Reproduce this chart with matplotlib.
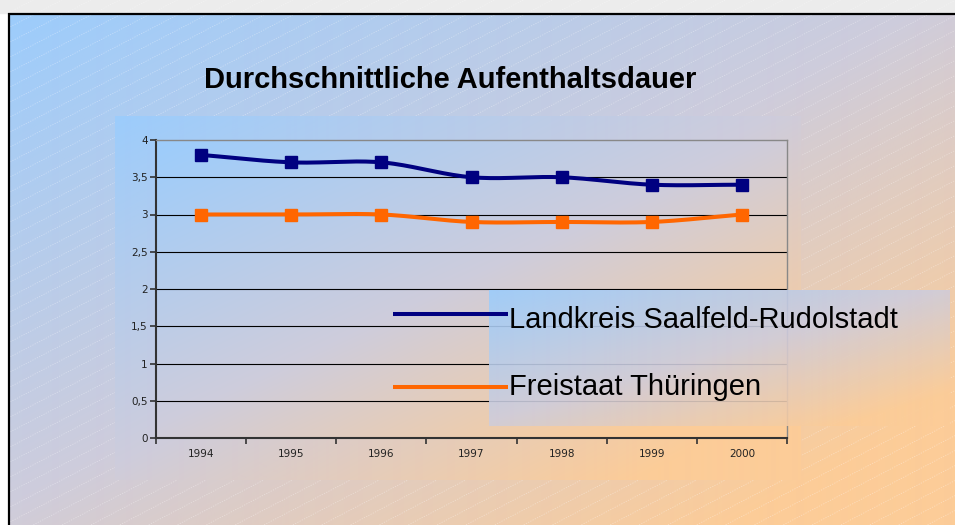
import numpy as np
import matplotlib
matplotlib.use('Agg')
import matplotlib.pyplot as plt
from matplotlib.patches import Rectangle
from matplotlib.lines import Line2D

# ---------------- data ----------------
years = ['1994', '1995', '1996', '1997', '1998', '1999', '2000']
landkreis = [3.8, 3.7, 3.7, 3.5, 3.5, 3.4, 3.4]
thueringen = [3.0, 3.0, 3.0, 2.9, 2.9, 2.9, 3.0]
series_names = ['Landkreis Saalfeld-Rudolstadt', 'Freistaat Thüringen']
series_colors = ['#000080', '#FF6600']
y_ticks = [0, 0.5, 1, 1.5, 2, 2.5, 3, 3.5, 4]
y_ticklabels = ['0', '0,5', '1', '1,5', '2', '2,5', '3', '3,5', '4']
title = 'Durchschnittliche Aufenthaltsdauer'

# ---------------- helpers ----------------
W, H = 955, 525
c0 = np.array([156, 204, 252]) / 255.0
cm = np.array([206, 204, 220]) / 255.0
c1 = np.array([252, 204, 152]) / 255.0


def grad(w, h):
    xs = np.linspace(0, 1, max(int(w), 2))
    ys = np.linspace(0, 1, max(int(h), 2))
    t = ((xs[None, :] + ys[:, None]) / 2.0)[..., None]
    a = np.clip(t / 0.48, 0, 1)
    b = np.clip((t - 0.48) / 0.40, 0, 1)
    lo = c0 * (1 - a) + cm * a
    hi = cm * (1 - b) + c1 * b
    return np.where(t < 0.48, lo, hi)


def smooth(xv, yv, n=30):
    x = np.asarray(xv, float)
    y = np.asarray(yv, float)
    px = np.concatenate([[2 * x[0] - x[1]], x, [2 * x[-1] - x[-2]]])
    py = np.concatenate([[2 * y[0] - y[1]], y, [2 * y[-1] - y[-2]]])
    ox, oy = [], []
    t = np.linspace(0, 1, n)
    for i in range(1, len(px) - 2):
        for arr, out in ((px, ox), (py, oy)):
            p0, p1, p2, p3 = arr[i - 1], arr[i], arr[i + 1], arr[i + 2]
            out.extend(0.5 * ((2 * p1) + (-p0 + p2) * t + (2 * p0 - 5 * p1 + 4 * p2 - p3) * t ** 2
                              + (-p0 + 3 * p1 - 3 * p2 + p3) * t ** 3))
    return np.array(ox), np.array(oy)


fig = plt.figure(figsize=(W / 100, H / 100), dpi=100)

# ---------------- background ----------------
bg = fig.add_axes([0, 0, 1, 1], zorder=0)
bg.axis('off')

fx0, fy0 = 8, 13
bg.add_patch(Rectangle((0, 0), W, fy0, color='#ECECEC', zorder=0))
bg.imshow(grad(W - fx0, H - fy0), extent=(fx0, W, H, fy0), aspect='auto', zorder=1,
          interpolation='bilinear')

# faint diagonal hatch lines, kept outside the chart area
ca = (115, 116, 800, 480)
slope = 0.52
for b in np.arange(fy0, H + slope * W + 20, 15):
    xa, xb = fx0, W
    xin0 = fx0 + (b - ca[3]) / slope
    xin1 = fx0 + (b - ca[1]) / slope
    lo, hi = max(xin0, ca[0]), min(xin1, ca[2])
    segs = [(xa, xb)] if lo >= hi else [(xa, lo), (hi, xb)]
    for s0, s1 in segs:
        if s1 <= s0:
            continue
        xx = np.array([s0, s1])
        bg.plot(xx, b - slope * (xx - fx0), color='white', lw=0.6, alpha=0.35,
                ls=(0, (1.5, 1.5)), zorder=2)

# chart area with its own gradient
bg.imshow(grad(ca[2] - ca[0], ca[3] - ca[1]), extent=(ca[0], ca[2], ca[3], ca[1]),
          aspect='auto', zorder=3, interpolation='bilinear')

# frame
bg.plot([fx0 + 1, fx0 + 1], [fy0, H], color='black', lw=1.6, zorder=5, solid_capstyle='butt')
bg.plot([fx0, W], [fy0 + 1, fy0 + 1], color='black', lw=1.6, zorder=5, solid_capstyle='butt')
bg.set_xlim(0, W)
bg.set_ylim(H, 0)

# title
bg.text(450, 88, title, ha='center', va='baseline', fontsize=21, fontweight='bold',
        family='Liberation Sans', color='black', zorder=6)

# ---------------- plot area ----------------
px0, py0, px1, py1 = 156, 140, 787, 438
ax = fig.add_axes([px0 / W, 1 - py1 / H, (px1 - px0) / W, (py1 - py0) / H], zorder=2)
n = len(years)
ax.imshow(grad(px1 - px0, py1 - py0), extent=(-0.5, n - 0.5, 0, 4), aspect='auto', zorder=0,
          interpolation='bilinear')
ax.set_xlim(-0.5, n - 0.5)
ax.set_ylim(0, 4)
for yv in y_ticks[1:-1]:
    ax.axhline(yv, color='black', lw=0.8, zorder=1)

xi = np.arange(n)
for vals, col in zip([landkreis, thueringen], series_colors):
    sx, sy = smooth(xi, vals)
    ax.plot(sx, sy, color=col, lw=2.9, zorder=3, solid_capstyle='butt')
    ax.plot(xi, vals, ls='none', marker='s', ms=8.5, color=col, zorder=4)

ax.set_yticks(y_ticks)
ax.set_yticklabels(y_ticklabels, fontsize=7.5, family='DejaVu Sans', color='#222222')
ax.set_xticks(np.arange(-0.5, n, 1.0))
ax.set_xticklabels([])
ax.set_xticks(xi, minor=True)
ax.set_xticklabels(years, minor=True, fontsize=7.5, family='DejaVu Sans', color='#222222')
ax.tick_params(axis='x', which='major', direction='out', length=4, width=1.2, color='#333333')
ax.tick_params(axis='x', which='minor', length=0, pad=8)
ax.tick_params(axis='y', direction='out', length=4, width=1.2, color='#333333', pad=2)
for s in ['left', 'bottom']:
    ax.spines[s].set_color('#333333')
    ax.spines[s].set_linewidth(1.5)
for s in ['top', 'right']:
    ax.spines[s].set_color('#888888')
    ax.spines[s].set_linewidth(1.0)

# ---------------- legend ----------------
lx0, ly0, lx1, ly1 = 489, 290, 949, 426
lax = fig.add_axes([lx0 / W, 1 - ly1 / H, (lx1 - lx0) / W, (ly1 - ly0) / H], zorder=3)
lax.imshow(grad(lx1 - lx0, ly1 - ly0), extent=(0, 1, 0, 1), aspect='auto', alpha=0.9,
           interpolation='bilinear')
lax.axis('off')

ov = fig.add_axes([0, 0, 1, 1], zorder=4)
ov.set_xlim(0, W)
ov.set_ylim(H, 0)
ov.axis('off')
ov.patch.set_alpha(0)
for name, col, ly, base in zip(series_names, series_colors, [314, 387], [328, 395]):
    ov.add_line(Line2D([393, 508], [ly, ly], color=col, lw=2.9, solid_capstyle='butt'))
    ov.text(509, base, name, ha='left', va='baseline', fontsize=21, family='Liberation Sans',
            color='black')

fig.savefig('out.png', dpi=100)
